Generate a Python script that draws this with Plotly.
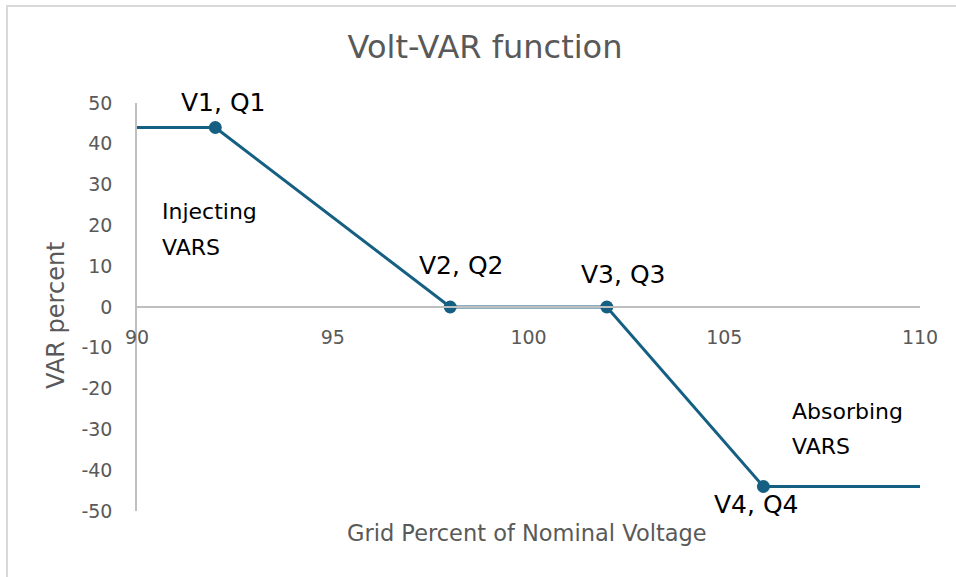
import plotly.graph_objects as go

# Data
voltage = [90, 92, 98, 102, 106, 110]
var_pct = [44, 44, 0, 0, -44, -44]
point_v = [92, 98, 102, 106]
point_q = [44, 0, 0, -44]
point_labels = ["V1, Q1", "V2, Q2", "V3, Q3", "V4, Q4"]
x_ticks = [90, 95, 100, 105, 110]
y_ticks = [50, 40, 30, 20, 10, 0, -10, -20, -30, -40, -50]

LINE = "#156082"
GRAY = "#595959"
AXIS = "#bfbfbf"
FONT = "DejaVu Sans"

fig = go.Figure()
fig.add_trace(go.Scatter(x=voltage, y=var_pct, mode="lines",
                         line=dict(color=LINE, width=3), hoverinfo="skip"))
fig.add_trace(go.Scatter(x=point_v, y=point_q, mode="markers",
                         marker=dict(color=LINE, size=13), hoverinfo="skip"))

# point labels (offsets in pixels: right, down)
offsets = [(8, -25), (11, -42), (17, -33), (-7, 18)]
for v, q, t, (dx, dy) in zip(point_v, point_q, point_labels, offsets):
    fig.add_annotation(x=v, y=q, text=t, showarrow=False, xshift=dx, yshift=-dy,
                       font=dict(family=FONT, size=25, color="#000000"))

region_text = [(90.59, 23.5, "Injecting"), (90.59, 14.7, "VARS"),
               (106.68, -25.5, "Absorbing"), (106.68, -34.3, "VARS")]
for x, y, t in region_text:
    fig.add_annotation(x=x, y=y, text=t, showarrow=False,
                       xanchor="left", yanchor="middle",
                       font=dict(family=FONT, size=22, color="#000000"))

# axis titles
fig.add_annotation(xref="paper", yref="paper", x=(527 - 137) / 783, y=(511 - 533) / 408,
                   xanchor="center", yanchor="middle",
                   text="Grid Percent of Nominal Voltage", showarrow=False,
                   font=dict(family=FONT, size=22.5, color=GRAY))
fig.add_annotation(xref="paper", yref="paper", x=(56 - 137) / 783, y=(511 - 315) / 408,
                   xanchor="center", yanchor="middle",
                   text="VAR percent", showarrow=False, textangle=-90,
                   font=dict(family=FONT, size=24, color=GRAY))

# chart-area border
fig.add_shape(type="rect", xref="paper", yref="paper",
              x0=(7 - 137) / 783, x1=2, y0=-1, y1=(511 - 6) / 408,
              line=dict(color="#d9d9d9", width=2), fillcolor="rgba(0,0,0,0)")

fig.update_layout(
    width=956, height=577,
    margin=dict(l=137, r=36, t=103, b=66),
    paper_bgcolor="white", plot_bgcolor="white",
    showlegend=False,
    title=dict(text="Volt-VAR function", xref="container", x=485 / 956,
               yref="container", y=1 - 47 / 577, yanchor="middle", xanchor="center",
               font=dict(family=FONT, size=32, color=GRAY)),
    xaxis=dict(range=[90, 110], tickvals=x_ticks, showgrid=False, zeroline=False,
               showline=True, linecolor=AXIS, linewidth=1.5,
               anchor="free", position=0.5, ticks="", ticklabelstandoff=13,
               tickfont=dict(family=FONT, size=19, color=GRAY)),
    yaxis=dict(range=[-50, 50], tickvals=y_ticks, ticktext=[str(v) for v in y_ticks],
               showgrid=False, zeroline=False,
               showline=True, linecolor=AXIS, linewidth=1.5, ticks="",
               ticklabelstandoff=19,
               tickfont=dict(family=FONT, size=19, color=GRAY)),
)

fig.write_html("out.html", config={"displayModeBar": False},
               post_script="document.body.style.margin='0';document.body.style.overflow='hidden';")
